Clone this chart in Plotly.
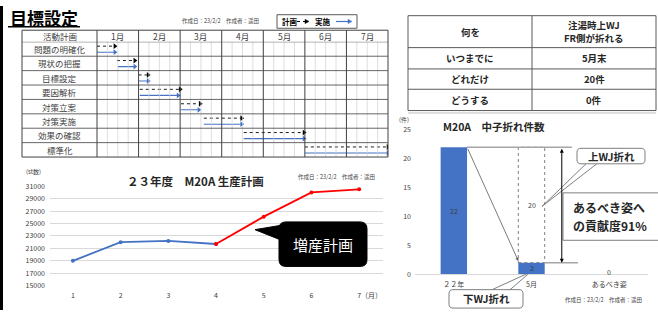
import plotly.graph_objects as go

W, H = 658, 314
FONT = "Noto Sans CJK JP"

# ---------------- data ----------------
activities = ["問題の明確化", "現状の把握", "目標設定", "要因解析",
              "対策立案", "対策実施", "効果の確認", "標準化"]
gantt_months = ["1月", "2月", "3月", "4月", "5月", "6月", "7月"]
plan_start = [0.00, 0.48, 1.00, 1.03, 2.02, 2.57, 3.53, 5.00]
plan_end   = [0.43, 0.91, 1.23, 2.00, 2.48, 3.48, 4.98, 7.00]
act_start  = [0.00, 0.50, 1.00, 1.03, 2.02, 2.57, 3.53, 5.00]
act_end    = [0.43, 0.91, 1.23, 1.95, 2.45, 3.48, 4.98, 7.00]

prod_month = [1, 2, 3, 4, 5, 6, 7]
prod_value = [19000, 22000, 22200, 21700, 26100, 30000, 30500]
prod_ticks = [15000, 17000, 19000, 21000, 23000, 25000, 27000, 29000, 31000]

break_cats = ["２２年", "5月", "あるべき姿"]
break_vals = [22, 2, 0]
reduction = 20

table_left = ["何を", "いつまでに", "どれだけ", "どうする"]
table_right = [["注湯時上WJ", "FR側が折れる"], ["5月末"], ["20件"], ["0件"]]

BLUE = "#4472C4"
GRAY = "#404040"

fig = go.Figure()
shapes = []
anns = []


def X(x):
    return x / W


def Y(y):
    return 1 - y / H


def line_px(x0, y0, x1, y1, color, width=1, dash="solid"):
    shapes.append(dict(type="line", xref="paper", yref="paper",
                       x0=X(x0), y0=Y(y0), x1=X(x1), y1=Y(y1),
                       line=dict(color=color, width=width, dash=dash)))


def rect_px(x0, y0, x1, y1, line_color, fill="rgba(0,0,0,0)", width=1):
    shapes.append(dict(type="rect", xref="paper", yref="paper",
                       x0=X(x0), y0=Y(y0), x1=X(x1), y1=Y(y1),
                       line=dict(color=line_color, width=width), fillcolor=fill))


def P(x, y):
    return f"{X(x):.5f},{Y(y):.5f}"


def round_rect(x0, y0, x1, y1, r, line_color, fill, width=1):
    path = (f"M {P(x0 + r, y0)} L {P(x1 - r, y0)} Q {P(x1, y0)} {P(x1, y0 + r)} "
            f"L {P(x1, y1 - r)} Q {P(x1, y1)} {P(x1 - r, y1)} L {P(x0 + r, y1)} "
            f"Q {P(x0, y1)} {P(x0, y1 - r)} L {P(x0, y0 + r)} Q {P(x0, y0)} {P(x0 + r, y0)} Z")
    shapes.append(dict(type="path", xref="paper", yref="paper", path=path,
                       line=dict(color=line_color, width=width), fillcolor=fill))


def poly(points, line_color, fill, width=1):
    path = "M " + " L ".join(P(x, y) for x, y in points) + " Z"
    shapes.append(dict(type="path", xref="paper", yref="paper", path=path,
                       line=dict(color=line_color, width=width), fillcolor=fill))


def ann_px(text, x, y, size, color="black", bold=False, xanchor="center", yanchor="middle"):
    if bold:
        text = f"<b>{text}</b>"
    anns.append(dict(text=text, x=X(x), y=Y(y), xref="paper", yref="paper",
                     showarrow=False, xanchor=xanchor, yanchor=yanchor,
                     font=dict(family=FONT, size=size, color=color)))


# ---------------- left strip / title ----------------
rect_px(0, 0, 3, 314, "black", "black", 0)
ann_px("目標設定", 44, 12, 17, "black", True)
line_px(8, 21.5, 80, 21.5, "black", 1.5)
ann_px("作成日：23/2/2　作成者：遥田", 220, 15.5, 5.5, GRAY)

# legend box
rect_px(277, 9, 357, 23, "#595959", "white", 1)
ann_px("計画", 290, 16, 7.5, "black", True)
line_px(297, 16, 306, 16, "black", 1, "dot")
poly([(305, 13.8), (309, 16), (305, 18.2)], "black", "black", 0.5)
ann_px("実施", 322.5, 16, 7.5, "black", True)
line_px(336, 16, 349, 16, BLUE, 1.2)
poly([(348, 13.8), (352, 16), (348, 18.2)], BLUE, BLUE, 0.5)

# ---------------- Gantt table ----------------
T_TOP, T_HEAD, T_BOT = 25, 37, 156
for m in range(len(gantt_months)):
    for q in (0.25, 0.5, 0.75):
        shapes.append(dict(type="line", xref="x", yref="y", x0=m + q, x1=m + q, y0=0, y1=8,
                           line=dict(color="#D0D0D0", width=0.7)))
for m in range(1, len(gantt_months)):
    shapes.append(dict(type="line", xref="x", yref="paper", x0=m, x1=m,
                       y0=Y(T_BOT), y1=Y(T_TOP), line=dict(color=GRAY, width=1)))
for r in range(0, len(activities)):
    shapes.append(dict(type="line", xref="paper", yref="y", x0=X(22), x1=X(388),
                       y0=r, y1=r, line=dict(color=GRAY, width=0.8)))
line_px(97, T_TOP, 97, T_BOT, GRAY, 1)
rect_px(22, T_TOP, 388, T_BOT, GRAY, width=1)

ann_px("活動計画", 59.5, 31, 8.5, GRAY)
for m, lab in enumerate(gantt_months):
    anns.append(dict(text=lab, x=m + 0.5, y=Y(31), xref="x", yref="paper", showarrow=False,
                     xanchor="center", yanchor="middle",
                     font=dict(family=FONT, size=8.5, color=GRAY)))
for i, a in enumerate(activities):
    anns.append(dict(text=a, x=X(59.5), y=i + 0.5, xref="paper", yref="y", showarrow=False,
                     xanchor="center", yanchor="middle",
                     font=dict(family=FONT, size=8.5, color=GRAY)))

for i in range(len(activities)):
    fig.add_trace(go.Scatter(x=[plan_start[i], plan_end[i]], y=[i + 0.3, i + 0.3],
                             mode="lines", line=dict(color="black", width=0.9, dash="dot"),
                             xaxis="x", yaxis="y", hoverinfo="skip"))
    fig.add_trace(go.Scatter(x=[act_start[i], act_end[i]], y=[i + 0.72, i + 0.72],
                             mode="lines", line=dict(color=BLUE, width=1.1),
                             xaxis="x", yaxis="y", hoverinfo="skip"))
fig.add_trace(go.Scatter(x=plan_end, y=[i + 0.3 for i in range(len(activities))], mode="markers",
                         marker=dict(symbol="triangle-right", size=5, color="black"),
                         xaxis="x", yaxis="y", hoverinfo="skip"))
fig.add_trace(go.Scatter(x=act_end, y=[i + 0.72 for i in range(len(activities))], mode="markers",
                         marker=dict(symbol="triangle-right", size=5, color=BLUE),
                         xaxis="x", yaxis="y", hoverinfo="skip"))

# ---------------- right table ----------------
row_lines = [10, 43, 65, 86, 108]
rect_px(408, 10, 656, 108, "#595959", width=1)
line_px(532, 10, 532, 108, "#595959", 1)
for yy in row_lines[1:-1]:
    line_px(408, yy, 656, yy, "#595959", 1)
for k in range(len(table_left)):
    yc = (row_lines[k] + row_lines[k + 1]) / 2
    ann_px(table_left[k], 470, yc, 9.5, "#262626", True)
    parts = table_right[k]
    n = len(parts)
    for j, part in enumerate(parts):
        ann_px(part, 594, yc + (j - (n - 1) / 2) * 13, 9.5, "#262626", True)
line_px(408, 110.5, 656, 110.5, "#BFBFBF", 1)

# ---------------- production line chart ----------------
fig.add_trace(go.Scatter(x=prod_month[:4], y=prod_value[:4], mode="lines+markers",
                         line=dict(color=BLUE, width=1.8), marker=dict(size=4, color=BLUE),
                         xaxis="x2", yaxis="y2", hoverinfo="skip"))
fig.add_trace(go.Scatter(x=prod_month[3:], y=prod_value[3:], mode="lines+markers",
                         line=dict(color="#FF0000", width=1.8), marker=dict(size=4, color="#FF0000"),
                         xaxis="x2", yaxis="y2", hoverinfo="skip"))
ann_px("(st数)", 33, 171, 6, GRAY)
ann_px("２３年度　M20A 生産計画", 195, 181, 11.5, "#262626", True)
ann_px("作成日：23/2/2　作成者：遥田", 336, 177, 5.5, GRAY)
ann_px("（月）", 371, 299, 7, GRAY)

round_rect(279, 223, 367, 269, 7, "black", "black", 1)
poly([(284, 226), (255, 231), (284, 243)], "black", "black", 1)
ann_px("増産計画", 323, 246, 15, "white")

# ---------------- breakage bar chart ----------------
fig.add_trace(go.Bar(x=[0, 1, 2], y=break_vals, width=0.34, marker=dict(color=BLUE, line=dict(width=0)),
                     xaxis="x3", yaxis="y3", hoverinfo="skip"))
for k, v in enumerate(break_vals):
    anns.append(dict(text=str(v), x=k, y=v / 2 if v > 0 else 0.3, xref="x3", yref="y3",
                     showarrow=False, font=dict(family=FONT, size=7, color=GRAY)))
hw = 0.17
shapes.append(dict(type="rect", xref="x3", yref="y3", x0=1 - hw, x1=1 + hw,
                   y0=break_vals[1], y1=break_vals[1] + reduction,
                   line=dict(color="#7F7F7F", width=1, dash="dot"), fillcolor="rgba(0,0,0,0)"))
anns.append(dict(text=str(reduction), x=1, y=break_vals[1] + reduction / 2, xref="x3", yref="y3",
                 showarrow=False, font=dict(family=FONT, size=7, color=GRAY)))
shapes.append(dict(type="line", xref="x3", yref="y3", x0=hw, x1=1.52,
                   y0=break_vals[0], y1=break_vals[0], line=dict(color="#A6A6A6", width=1.5)))
shapes.append(dict(type="line", xref="x3", yref="y3", x0=1 + hw, x1=1.6,
                   y0=break_vals[1], y1=break_vals[1], line=dict(color="#A6A6A6", width=1.5)))
anns.append(dict(x=1.39, y=break_vals[1], ax=1.39, ay=break_vals[0], xref="x3", yref="y3",
                 axref="x3", ayref="y3", showarrow=True, arrowhead=2, arrowside="end+start",
                 arrowsize=0.8, arrowwidth=1, arrowcolor="black", text=""))
anns.append(dict(x=1 - hw, y=break_vals[1] + 0.3, ax=hw, ay=break_vals[0], xref="x3", yref="y3",
                 axref="x3", ayref="y3", showarrow=True, arrowhead=2, arrowsize=0.8,
                 arrowwidth=0.8, arrowcolor="#595959", text=""))

ann_px("(件)", 404, 117, 6, GRAY)
ann_px("M20A　中子折れ件数", 494, 124, 10.5, "#262626", True)
ann_px("作成日：23/2/2　作成者：遥田", 603, 304, 5.5, GRAY)

# callout 上WJ折れ
line_px(587, 162, 542, 207, "#7F7F7F", 1)
line_px(598, 162, 542, 207, "#7F7F7F", 1)
round_rect(577, 147, 645, 163, 4, "#7F7F7F", "white", 1)
ann_px("上WJ折れ", 611, 155, 10.5, "#262626", True)

# box あるべき姿へ
rect_px(563, 193, 662, 242, "#7F7F7F", "white", 1)
ann_px("あるべき姿へ", 571, 208, 12, "#262626", True, xanchor="left")
ann_px("の貢献度91%", 571, 227, 12, "#262626", True, xanchor="left")

# callout 下WJ折れ
line_px(490, 294, 526, 277, "#7F7F7F", 1)
line_px(509, 294, 528, 277, "#7F7F7F", 1)
round_rect(449, 293, 523, 312, 4, "#7F7F7F", "white", 1)
ann_px("下WJ折れ", 486, 302.5, 10.5, "#262626", True)

# ---------------- layout ----------------
fig.update_layout(
    width=W, height=H, margin=dict(l=0, r=0, t=0, b=0),
    paper_bgcolor="white", plot_bgcolor="rgba(0,0,0,0)",
    showlegend=False, hovermode=False,
    font=dict(family=FONT, color=GRAY),
    xaxis=dict(domain=[X(97), X(388)], range=[0, 7], visible=False, anchor="y", fixedrange=True),
    yaxis=dict(domain=[Y(T_BOT), Y(T_HEAD)], range=[8, 0], visible=False, anchor="x", fixedrange=True),
    xaxis2=dict(domain=[X(50), X(383)], range=[0.52, 7.5], tickvals=prod_month,
                showgrid=False, zeroline=False, showline=False, ticks="", anchor="y2",
                tickfont=dict(size=7, color=GRAY), ticklabelstandoff=4),
    yaxis2=dict(domain=[Y(289), Y(186)], range=[14980, 31020], tickvals=prod_ticks,
                tickformat="d",
                showgrid=True, gridcolor="#D9D9D9", gridwidth=1, zeroline=False, showline=False,
                ticks="", anchor="x2", tickfont=dict(size=7, color=GRAY), ticklabelstandoff=4),
    xaxis3=dict(domain=[X(415), X(648)], range=[-0.5, 2.5], tickvals=[0, 1, 2], ticktext=break_cats,
                showgrid=False, zeroline=False, showline=True, linecolor="#D9D9D9", ticks="",
                anchor="y3", tickfont=dict(size=7, color=GRAY), ticklabelstandoff=3),
    yaxis3=dict(domain=[Y(277), Y(128)], range=[0, 25], dtick=5, showgrid=False, zeroline=False,
                showline=False, ticks="", anchor="x3", tickfont=dict(size=7, color=GRAY),
                ticklabelstandoff=3),
    shapes=shapes, annotations=anns,
)

fig.write_html("out.html", config={"displayModeBar": False},
               post_script="document.body.style.margin='0';document.body.style.overflow='hidden';")
